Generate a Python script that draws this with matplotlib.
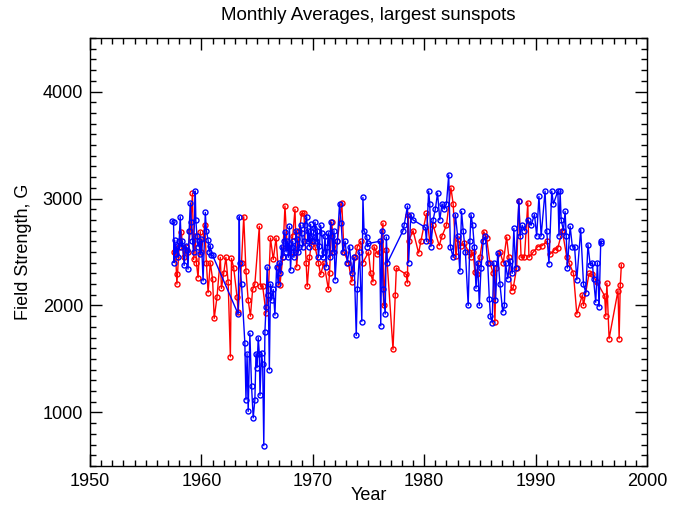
import numpy as np
import matplotlib.pyplot as plt
from matplotlib.ticker import MultipleLocator

# Datos (anio, campo en G)
azul_anio = [1957.4, 1957.5, 1957.55, 1957.6, 1957.7, 1957.8, 1957.9, 1958.0, 1958.1, 1958.2,
             1958.3, 1958.45, 1958.6, 1958.7, 1958.8, 1958.9, 1959.0, 1959.1, 1959.2, 1959.3,
             1959.45, 1959.5, 1959.6, 1959.7, 1959.8, 1959.9, 1960.0, 1960.15, 1960.35, 1960.45,
             1960.6, 1960.7, 1960.8, 1960.9, 1961.0, 1963.3, 1963.4, 1963.45, 1963.6, 1963.9,
             1964.0, 1964.1, 1964.2, 1964.35, 1964.5, 1964.65, 1964.8, 1964.9, 1965.0, 1965.1,
             1965.2, 1965.26, 1965.4, 1965.5, 1965.6, 1965.7, 1965.8, 1965.9, 1966.0, 1966.1,
             1966.2, 1966.3, 1966.45, 1966.6, 1966.75, 1966.9,
             1967.0, 1967.1, 1967.2, 1967.3, 1967.4, 1967.5, 1967.6, 1967.7, 1967.8, 1967.9,
             1968.0, 1968.1, 1968.2, 1968.3, 1968.4, 1968.5, 1968.6, 1968.7, 1968.8, 1968.9,
             1969.0, 1969.1, 1969.2, 1969.3, 1969.45, 1969.55, 1969.6, 1969.7, 1969.8, 1969.9,
             1970.0, 1970.1, 1970.2, 1970.3, 1970.4, 1970.5, 1970.6, 1970.7, 1970.8, 1970.9,
             1971.0, 1971.1, 1971.2, 1971.3, 1971.4, 1971.5, 1971.6, 1971.7, 1971.8, 1971.9,
             1972.0, 1972.2, 1972.4, 1972.55, 1972.7, 1972.9, 1973.1, 1973.3,
             1973.5, 1973.7, 1973.9, 1974.0, 1974.2, 1974.4, 1974.5, 1974.6, 1974.85, 1974.9,
             1975.0, 1976.0, 1976.1, 1976.2, 1976.3, 1976.5, 1976.6, 1976.7, 1978.1, 1978.2,
             1978.5, 1978.6, 1978.8, 1979.0, 1980.1, 1980.2, 1980.4, 1980.5, 1980.6, 1980.8,
             1981.0, 1981.2, 1981.4, 1981.6, 1981.8, 1982.0, 1982.2, 1982.35, 1982.6, 1982.8,
             1983.0, 1983.2, 1983.35, 1983.5, 1983.7, 1983.95, 1984.1, 1984.2, 1984.35, 1984.5,
             1984.65, 1984.8, 1984.95, 1985.1, 1985.3, 1985.5, 1985.7, 1985.85, 1985.95, 1986.1,
             1986.25, 1986.4, 1986.6, 1986.8, 1987.05, 1987.2, 1987.3, 1987.5, 1987.7, 1987.9,
             1988.05, 1988.2, 1988.5, 1988.6, 1988.8, 1989.0, 1989.3, 1989.6, 1989.9, 1990.1,
             1990.3, 1990.5, 1990.85, 1991.0, 1991.2, 1991.45, 1991.6, 1992.0, 1992.1, 1992.2,
             1992.3, 1992.5, 1992.65, 1992.75, 1992.85, 1993.1, 1993.3, 1993.5, 1993.7, 1994.05,
             1994.3, 1994.5, 1994.7, 1994.9, 1995.1, 1995.2, 1995.4, 1995.55, 1995.7, 1995.85,
             1995.9]
azul_campo = [2790, 2780, 2400, 2610, 2480, 2560, 2450, 2600, 2830, 2550,
              2600, 2375, 2560, 2520, 2340, 2700, 2960, 2780, 2600, 2500,
              3070, 2800, 2650, 2550, 2600, 2480, 2620, 2230, 2870, 2700,
              2610, 2500, 2560, 2470, 2470, 1920, 2830, 2400, 2200, 1650,
              1120, 1550, 1010, 1740, 1250, 950, 1120, 1550, 1420, 1700,
              1550, 1160, 1560, 1450, 690, 1750, 1990, 2360, 2100, 1400,
              2200, 2050, 2150, 1910, 2360, 2200,
              2400, 2300, 2550, 2450, 2600, 2690, 2500, 2600, 2450, 2740,
              2330, 2550, 2600, 2450, 2500, 2700, 2620, 2500, 2550, 2750,
              2680, 2550, 2600, 2750, 2830, 2600, 2700, 2550, 2760, 2650,
              2600, 2720, 2780, 2600, 2700, 2450, 2560, 2750, 2680, 2450,
              2500, 2650, 2360, 2550, 2680, 2450, 2780, 2650, 2500, 2700,
              2240, 2600, 2950, 2770, 2500, 2600, 2400, 2550,
              2300, 2450, 1720, 2150, 2500, 1850, 3010, 2700, 2640, 2550,
              2580, 2600, 1810, 2700, 2150, 1920, 2640, 2400, 2700, 2750,
              2930, 2400, 2850, 2800, 2730, 2600, 3070, 2950, 2550, 2800,
              2900, 3050, 2800, 2950, 2900, 2950, 3220, 2550, 2450, 2850,
              2650, 2320, 2880, 2700, 2500, 2000, 2600, 2850, 2750, 2550,
              2160, 2400, 2000, 2350, 2600, 2650, 2400, 2060, 1900, 1840,
              2400, 2050, 2490, 2200, 1940, 2000, 2400, 2250, 2420, 2300,
              2720, 2350, 2980, 2650, 2750, 2700, 2800, 2750, 2850, 2650,
              3020, 2650, 3070, 2700, 2390, 3070, 2950, 3070, 2650, 3070,
              2800, 2700, 2880, 2650, 2350, 2740, 2550, 2550, 2240, 2710,
              2200, 2120, 2570, 2380, 2400, 2250, 2030, 2400, 1990, 2600,
              2580]

rojo_anio = [1957.5, 1957.7, 1957.8, 1957.85, 1958.0, 1958.2, 1958.4, 1958.6, 1958.8, 1959.0,
             1959.2, 1959.3, 1959.45, 1959.55, 1959.7, 1959.9, 1960.0, 1960.3, 1960.45, 1960.6,
             1960.8, 1961.0, 1961.15, 1961.4, 1961.7, 1961.8, 1962.0, 1962.2, 1962.4, 1962.6,
             1962.7, 1962.9, 1963.2, 1963.3, 1963.6, 1963.8, 1964.0, 1964.2, 1964.4, 1964.6,
             1964.8, 1965.2, 1965.3, 1965.5, 1965.8, 1966.0, 1966.2, 1966.45, 1966.7, 1966.9,
             1967.05, 1967.3, 1967.5, 1967.7, 1968.0, 1968.2, 1968.4, 1968.55, 1968.8, 1969.0,
             1969.2, 1969.4, 1969.5, 1969.7, 1969.9, 1970.2, 1970.5, 1970.7, 1971.0, 1971.4,
             1971.5, 1971.7, 1971.9, 1972.2, 1972.6, 1972.8, 1973.2, 1973.5, 1973.8, 1974.0,
             1974.3, 1974.5, 1975.0, 1975.2, 1975.4, 1975.5, 1975.8, 1976.0, 1976.3, 1976.35,
             1976.6, 1977.2, 1977.4, 1977.5, 1978.4, 1978.5, 1978.55, 1978.6, 1979.0, 1979.5,
             1979.7, 1980.2, 1980.5, 1980.8, 1981.35, 1981.6, 1982.0, 1982.4, 1982.6, 1982.85,
             1983.0, 1983.3, 1983.6, 1984.0, 1984.2, 1984.4, 1984.55, 1984.7, 1985.0, 1985.35,
             1985.6, 1985.9, 1986.2, 1986.35, 1986.45, 1986.8, 1987.1, 1987.4, 1987.6, 1987.85,
             1988.0, 1988.3, 1988.5, 1988.7, 1989.0, 1989.3, 1989.4, 1989.8, 1990.2, 1990.6,
             1991.0, 1991.3, 1991.7, 1992.0, 1992.4, 1992.8, 1993.0, 1993.4, 1993.7, 1994.2,
             1994.3, 1994.8, 1995.1, 1995.5, 1996.2, 1996.3, 1996.4, 1996.6, 1997.4, 1997.5,
             1997.6, 1997.7]
rojo_campo = [2500, 2450, 2200, 2290, 2550, 2690, 2450, 2550, 2500, 2700,
              3050, 2430, 2650, 2400, 2260, 2690, 2500, 2750, 2400, 2120,
              2400, 2250, 1880, 2080, 2450, 2160, 2300, 2450, 2220, 1520,
              2440, 2350, 2080, 1940, 2400, 2830, 2320, 2050, 1900, 2150,
              2200, 2740, 2180, 2180, 1930, 2100, 2630, 2430, 2630, 2350,
              2190, 2450, 2930, 2550, 2500, 2650, 2900, 2360, 2700, 2860,
              2860, 2400, 2180, 2450, 2600, 2550, 2400, 2290, 2400, 2150,
              2300, 2780, 2500, 2600, 2960, 2500, 2400, 2220, 2450, 2550,
              2600, 2400, 2500, 2300, 2220, 2550, 2480, 2500, 2770, 2000,
              2520, 1590, 2100, 2350, 2290, 2210, 2850, 2600, 2700, 2490,
              2600, 2860, 2600, 2750, 2560, 2650, 2750, 3100, 2950, 2460,
              2620, 2560, 2580, 2500, 2450, 2500, 2310, 2290, 2450, 2690,
              2630, 2400, 2300, 1850, 2350, 2500, 2400, 2640, 2450, 2140,
              2170, 2350, 2980, 2450, 2450, 2960, 2450, 2500, 2550, 2560,
              2600, 2480, 2520, 2540, 2700, 2450, 2400, 2300, 1920, 2100,
              2000, 2300, 2290, 2220, 2090, 1900, 2210, 1690, 2140, 1690,
              2190, 2380]

plt.rcParams['font.family'] = ['Liberation Sans', 'DejaVu Sans']

fig = plt.figure(figsize=(6.85, 5.07), dpi=100)
ax = fig.add_axes([0.1314, 0.0809, 0.8131, 0.8441])

ax.plot(rojo_anio, rojo_campo, color='red', lw=1, marker='o', ms=3.6,
        mfc='none', mec='red', mew=1)
ax.plot(azul_anio, azul_campo, color='blue', lw=1, marker='o', ms=3.6,
        mfc='none', mec='blue', mew=1)

ax.set_xlim(1950, 2000)
ax.set_ylim(500, 4500)
ax.set_xticks([1950, 1960, 1970, 1980, 1990, 2000])
ax.set_yticks([1000, 2000, 3000, 4000])
ax.xaxis.set_minor_locator(MultipleLocator(1))
ax.yaxis.set_minor_locator(MultipleLocator(100))
ax.tick_params(which='both', direction='in', top=True, right=True, labelsize=13, width=1)
ax.tick_params(which='major', length=8.5, pad=5)
ax.tick_params(which='minor', length=4.3)
for s in ax.spines.values():
    s.set_linewidth(1)

ax.set_title("Monthly Averages, largest sunspots", fontsize=13.5, pad=13)
ax.set_xlabel("Year", fontsize=13, labelpad=-2)
ax.set_ylabel("Field Strength, G", fontsize=13, labelpad=8)

plt.savefig("out.png", dpi=100)
